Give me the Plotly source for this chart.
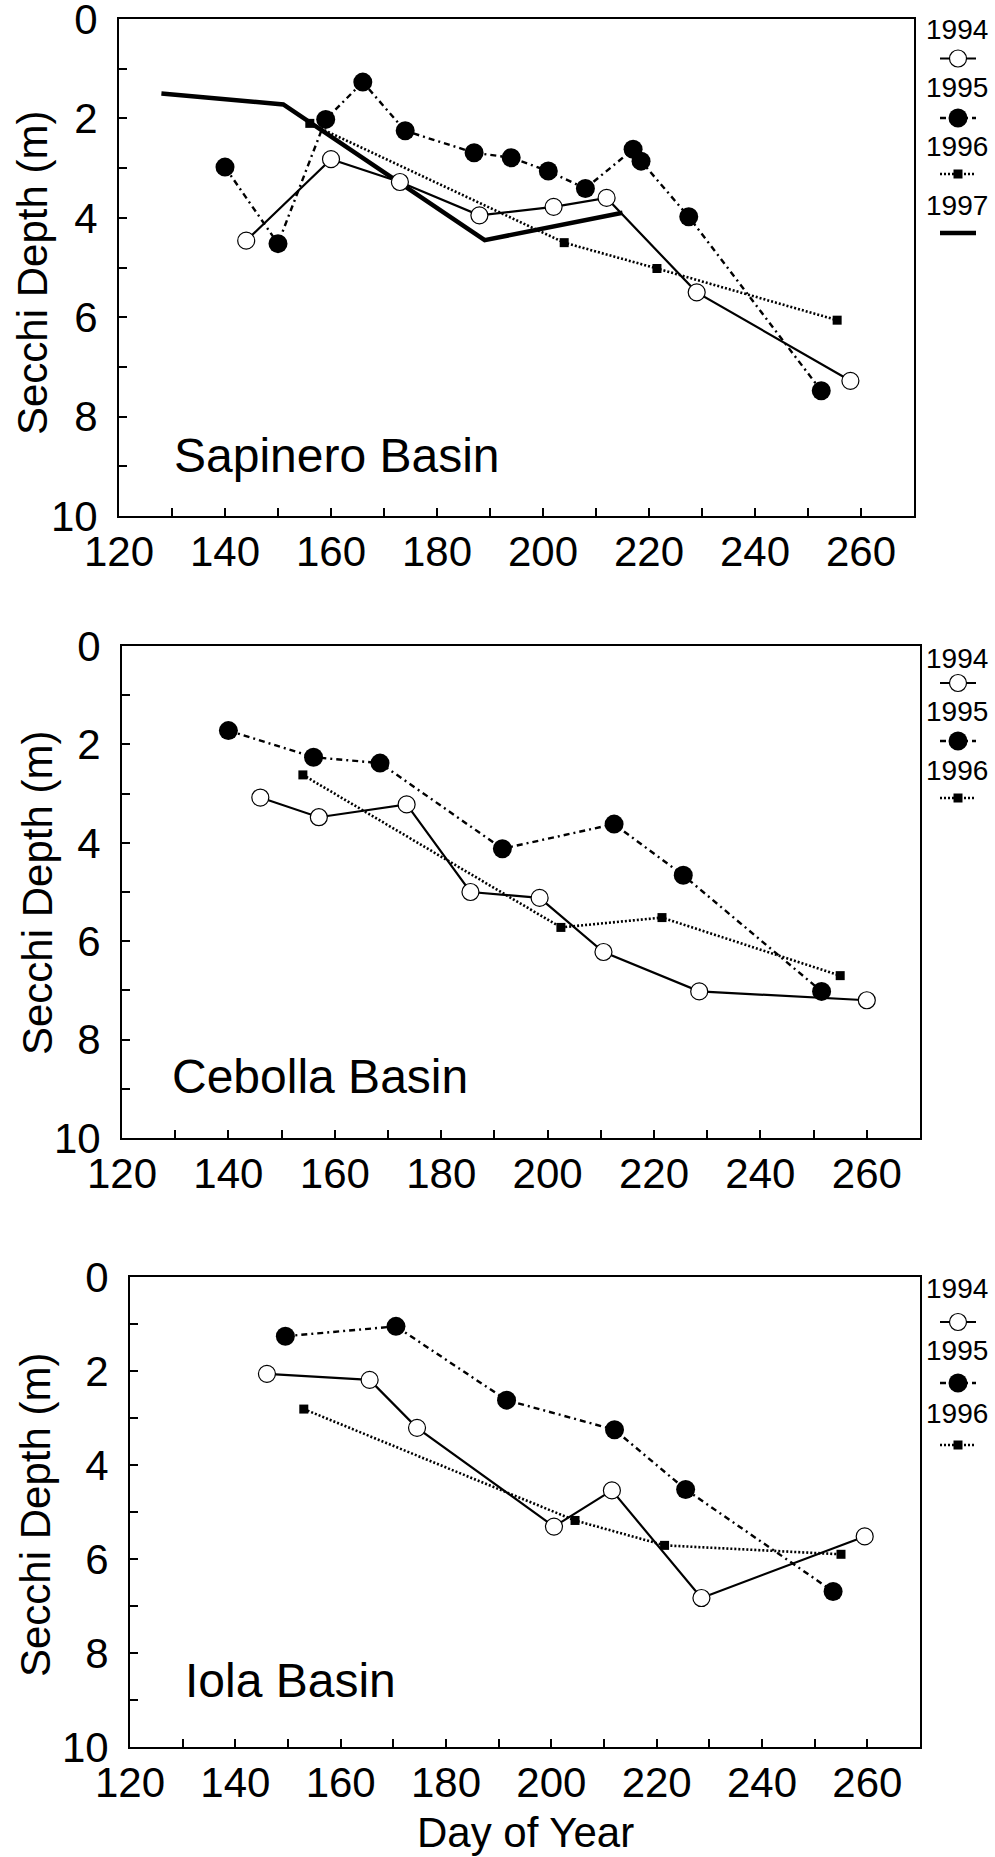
import plotly.graph_objects as go

# ---------------- data ----------------
years = ["1994", "1995", "1996", "1997"]

sap_1994_day = [144, 160, 173, 188, 202, 212, 229, 258]
sap_1994_depth = [4.46, 2.82, 3.28, 3.95, 3.78, 3.6, 5.5, 7.28]
sap_1995_day = [140, 150, 159, 166, 174, 187, 194, 201, 208, 217, 218.5, 227.5, 252.5]
sap_1995_depth = [2.98, 4.52, 2.02, 1.27, 2.25, 2.69, 2.79, 3.06, 3.41, 2.62, 2.86, 3.98, 7.48]
sap_1996_day = [156, 204, 221.5, 255.5]
sap_1996_depth = [2.1, 4.5, 5.02, 6.06]
sap_1997_day = [128, 151, 189, 215]
sap_1997_depth = [1.5, 1.72, 4.45, 3.9]

ceb_1994_day = [146, 157, 173.5, 185.5, 198.5, 210.5, 228.5, 260]
ceb_1994_depth = [3.08, 3.48, 3.22, 5.0, 5.12, 6.22, 7.02, 7.2]
ceb_1995_day = [140, 156, 168.5, 191.5, 212.5, 225.5, 251.5]
ceb_1995_depth = [1.72, 2.26, 2.38, 4.12, 3.62, 4.66, 7.02]
ceb_1996_day = [154, 202.5, 221.5, 255]
ceb_1996_depth = [2.62, 5.72, 5.52, 6.7]

iola_1994_day = [146, 165.5, 174.5, 200.5, 211.5, 228.5, 259.5]
iola_1994_depth = [2.06, 2.19, 3.21, 5.31, 4.54, 6.83, 5.52]
iola_1995_day = [149.5, 170.5, 191.5, 212, 225.5, 253.5]
iola_1995_depth = [1.26, 1.05, 2.62, 3.25, 4.52, 6.69]
iola_1996_day = [153, 204.5, 221.5, 255]
iola_1996_depth = [2.81, 5.18, 5.71, 5.9]

basin_names = ["Sapinero Basin", "Cebolla Basin", "Iola Basin"]
y_title = "Secchi Depth (m)"
x_title = "Day of Year"

# ---------------- layout constants (pixels) ----------------
W, H = 995, 1857
FONT = "Liberation Sans, Arial, sans-serif"

panels = [
    dict(name=basin_names[0], l=119, r=914, t=19, b=516,
         series={"1994": (sap_1994_day, sap_1994_depth), "1995": (sap_1995_day, sap_1995_depth),
                 "1996": (sap_1996_day, sap_1996_depth), "1997": (sap_1997_day, sap_1997_depth)},
         leg_text=[30, 88, 146, 206], leg_sym=[58.5, 118, 174, 233],
         label=(172, 456), ytitle=(32, 273)),
    dict(name=basin_names[1], l=122, r=920, t=646, b=1138,
         series={"1994": (ceb_1994_day, ceb_1994_depth), "1995": (ceb_1995_day, ceb_1995_depth),
                 "1996": (ceb_1996_day, ceb_1996_depth)},
         leg_text=[658, 711, 770], leg_sym=[683, 741, 798],
         label=(170, 1076), ytitle=(37, 893)),
    dict(name=basin_names[2], l=130, r=920, t=1277, b=1747,
         series={"1994": (iola_1994_day, iola_1994_depth), "1995": (iola_1995_day, iola_1995_depth),
                 "1996": (iola_1996_day, iola_1996_depth)},
         leg_text=[1288, 1350, 1413], leg_sym=[1322, 1383, 1445],
         label=(183, 1680), ytitle=(35, 1515)),
]

styles = {
    "1994": dict(mode="lines+markers", line=dict(color="black", width=2.2),
                 marker=dict(symbol="circle", size=17, color="white",
                             line=dict(color="black", width=1.2))),
    "1995": dict(mode="lines+markers", line=dict(color="black", width=2.4, dash="6px,4px,2px,4px"),
                 marker=dict(symbol="circle", size=19, color="black")),
    "1996": dict(mode="lines+markers", line=dict(color="black", width=2.6, dash="2px,2px"),
                 marker=dict(symbol="square", size=9, color="black")),
    "1997": dict(mode="lines", line=dict(color="black", width=4.5)),
}
draw_order = ["1996", "1997", "1995", "1994"]

fig = go.Figure()
layout = dict(template="none", width=W, height=H, margin=dict(l=0, r=0, t=0, b=0, pad=0),
              paper_bgcolor="white", plot_bgcolor="white", showlegend=False)
annotations = []


def px(v):
    return v / W


def py(v):
    return 1 - v / H


for i, p in enumerate(panels):
    n = i + 1
    sfx = "" if n == 1 else str(n)
    xa = dict(domain=[px(p["l"]), px(p["r"])], range=[120, 270], anchor="y" + sfx,
              automargin=False, ticklabeloverflow="allow",
              showline=True, linecolor="black", linewidth=2, mirror=True,
              ticks="inside", ticklen=8, tickwidth=1.5, tickcolor="black",
              tick0=120, dtick=20, ticklabelstandoff=-2,
              minor=dict(dtick=10, tick0=120, ticks="inside", ticklen=8, tickwidth=1.5, tickcolor="black"),
              showgrid=False, zeroline=False,
              tickfont=dict(family=FONT, size=42, color="black"))
    ya = dict(domain=[py(p["b"]), py(p["t"])], range=[10, 0], anchor="x" + sfx,
              automargin=False, ticklabeloverflow="allow",
              showline=True, linecolor="black", linewidth=2, mirror=True,
              ticks="inside", ticklen=8, tickwidth=1.5, tickcolor="black",
              tick0=0, dtick=2, ticklabelstandoff=11,
              minor=dict(dtick=1, tick0=0, ticks="inside", ticklen=8, tickwidth=1.5, tickcolor="black"),
              showgrid=False, zeroline=False,
              tickfont=dict(family=FONT, size=42, color="black"))
    layout["xaxis" + sfx] = xa
    layout["yaxis" + sfx] = ya

    for yr in draw_order:
        if yr in p["series"]:
            d, v = p["series"][yr]
            fig.add_trace(go.Scatter(x=d, y=v, xaxis="x" + sfx, yaxis="y" + sfx,
                                     name=yr, **styles[yr]))

    # legend column (samples on a private pixel-scaled axis)
    ln = n + 3
    layout["xaxis%d" % ln] = dict(domain=[px(925), 1.0], range=[925, 995], visible=False,
                                  anchor="y%d" % ln, fixedrange=True, automargin=False)
    layout["yaxis%d" % ln] = dict(domain=[py(p["b"]), py(p["t"])], range=[p["b"], p["t"]],
                                  visible=False, anchor="x%d" % ln, fixedrange=True, automargin=False)
    for k, yr in enumerate(list(p["series"].keys())):
        st = styles[yr]
        ys = p["leg_sym"][k]
        fig.add_trace(go.Scatter(x=[940, 976], y=[ys, ys], mode="lines", line=st["line"],
                                 xaxis="x%d" % ln, yaxis="y%d" % ln, hoverinfo="skip"))
        if "marker" in st:
            fig.add_trace(go.Scatter(x=[958], y=[ys], mode="markers", marker=st["marker"],
                                     xaxis="x%d" % ln, yaxis="y%d" % ln, hoverinfo="skip"))
        annotations.append(dict(text=yr, x=px(957), y=py(p["leg_text"][k]), xref="paper", yref="paper",
                                xanchor="center", yanchor="middle", showarrow=False,
                                font=dict(family=FONT, size=28, color="black")))

    annotations.append(dict(text=p["name"], x=px(p["label"][0]), y=py(p["label"][1]),
                            xref="paper", yref="paper", xanchor="left", yanchor="middle",
                            showarrow=False, font=dict(family=FONT, size=48, color="black")))
    annotations.append(dict(text=y_title, x=px(p["ytitle"][0]), y=py(p["ytitle"][1]),
                            xref="paper", yref="paper", xanchor="center", yanchor="middle",
                            textangle=-90, showarrow=False,
                            font=dict(family=FONT, size=42, color="black")))

annotations.append(dict(text=x_title, x=px(525), y=py(1832), xref="paper", yref="paper",
                        xanchor="center", yanchor="middle", showarrow=False,
                        font=dict(family=FONT, size=42, color="black")))

layout["annotations"] = annotations
fig.update_layout(**layout)
fig.write_html("out.html")
